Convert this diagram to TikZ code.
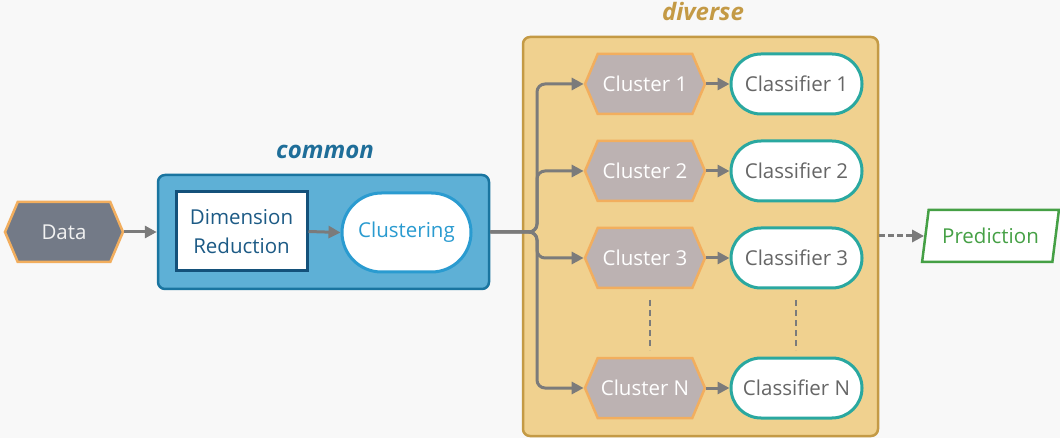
\documentclass[tikz,border=0pt]{standalone}
\usepackage{fontspec}
\setmainfont{Open Sans}
\usetikzlibrary{shapes.symbols,shapes.misc,shapes.geometric,arrows.meta}
\definecolor{bgc}{HTML}{F8F8F8}
\definecolor{hexborder}{HTML}{F2AE5E}
\definecolor{datafill}{HTML}{737A87}
\definecolor{clfill}{HTML}{BCB2B2}
\definecolor{comfill}{HTML}{5EB0D6}
\definecolor{comborder}{HTML}{1A75A0}
\definecolor{comtext}{HTML}{1F6E99}
\definecolor{drborder}{HTML}{14517A}
\definecolor{drtext}{HTML}{1C5A85}
\definecolor{clutext}{HTML}{2A9BD0}
\definecolor{divfill}{HTML}{F0D18F}
\definecolor{divborder}{HTML}{C49A45}
\definecolor{teal}{HTML}{2AA8A0}
\definecolor{clstext}{HTML}{666666}
\definecolor{predc}{HTML}{45A045}
\definecolor{linec}{HTML}{7B7B7B}
\tikzset{
  hexnode/.style={signal, signal to=east and west, signal pointer angle=134,
    draw=hexborder, line width=2.5pt, minimum width=120pt, minimum height=60pt,
    inner sep=0pt, font=\fontsize{20.5}{24}\selectfont},
  classnode/.style={rounded rectangle, draw=teal, fill=white, line width=3pt,
    minimum width=131pt, minimum height=60pt, inner sep=0pt, text=clstext,
    font=\fontsize{20.5}{24}\selectfont},
  arr/.style={draw=linec, line width=3pt, -{Triangle[length=12pt,width=12pt]}},
  dashline/.style={draw=linec, line width=2.5pt, dash pattern=on 6pt off 4pt},
  grouplabel/.style={font=\fontsize{24}{28}\selectfont\bfseries\itshape}
}
\begin{document}
\begin{tikzpicture}[x=1pt,y=-1pt]
\useasboundingbox (0,0) rectangle (1060,438);
\fill[bgc] (0,0) rectangle (1060,438);

% group boxes
\node[draw=comborder, fill=comfill, line width=2.5pt, rounded corners=7pt,
  minimum width=331pt, minimum height=114pt] (common) at (323.5,232) {};
\node[grouplabel, text=comtext] (comlab) at (325,152) {common};
\node[draw=divborder, fill=divfill, line width=2.5pt, rounded corners=7pt,
  minimum width=355pt, minimum height=399pt] (diverse) at (700.5,236.5) {};
\node[grouplabel, text=divborder] (divlab) at (703,12) {diverse};

% nodes
\node[hexnode, fill=datafill, text=white!90!gray, minimum width=118pt] (data) at (64,232) {Data};
\node[draw=drborder, fill=white, line width=3pt, minimum width=131pt, minimum height=79pt,
  align=center, text=drtext, inner sep=0pt, font=\fontsize{20.5}{29}\selectfont] (dr) at (241.5,231.5) {Dimension\\Reduction};
\node[rounded rectangle, draw=clutext, fill=white, line width=3pt, minimum width=129pt,
  minimum height=79pt, inner sep=0pt, text=clutext, font=\fontsize{20.5}{24}\selectfont] (clu) at (406.5,232.5) {Clustering};

\node[hexnode, fill=clfill, text=white] (c1) at (645,84) {Cluster 1};
\node[hexnode, fill=clfill, text=white] (c2) at (645,171) {Cluster 2};
\node[hexnode, fill=clfill, text=white] (c3) at (645,258) {Cluster 3};
\node[hexnode, fill=clfill, text=white] (cn) at (645,388) {Cluster N};

\node[classnode] (k1) at (796.5,84) {Classifier 1};
\node[classnode] (k2) at (796.5,171) {Classifier 2};
\node[classnode] (k3) at (796.5,258) {Classifier 3};
\node[classnode] (kn) at (796.5,388) {Classifier N};

\node[trapezium, trapezium left angle=72, trapezium right angle=108, trapezium stretches=true,
  draw=predc, fill=white, line width=2.5pt, minimum width=137pt, minimum height=52pt,
  inner sep=0pt, text=predc, font=\fontsize{20.5}{24}\selectfont] (pred) at (990.5,236) {Prediction};

% connectors
\draw[arr] (data.east) -- (common.west);
\draw[arr] (dr.east) -- (clu.west);
\coordinate (fork) at (537,232);
\foreach \t in {c1,c2,c3,cn}{
  \draw[arr, rounded corners=8pt] (common.east) -- (fork) |- (\t.west);
}
\draw[arr] (c1.east) -- (k1.west);
\draw[arr] (c2.east) -- (k2.west);
\draw[arr] (c3.east) -- (k3.west);
\draw[arr] (cn.east) -- (kn.west);

\coordinate (d1a) at (650,300); \coordinate (d1b) at (650,350);
\coordinate (d2a) at (796,300); \coordinate (d2b) at (796,350);
\draw[dashline] (d1a) -- (d1b);
\draw[dashline] (d2a) -- (d2b);

\draw[arr, dash pattern=on 6pt off 3pt] (diverse.east |- pred.west) -- (pred.west);
\end{tikzpicture}
\end{document}
